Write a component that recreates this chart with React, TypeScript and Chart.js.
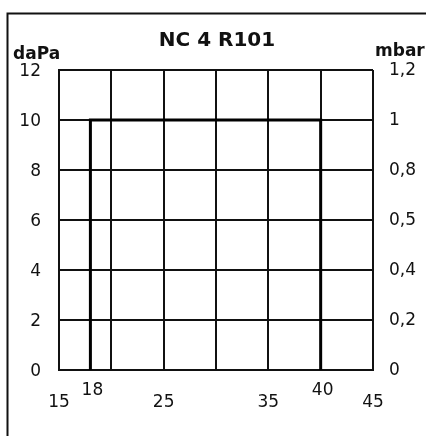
import { useEffect, useRef } from "react";
import { Chart, registerables } from "chart.js";

Chart.register(...registerables);

const TITLE = "NC 4 R101";
const LEFT_UNIT = "daPa";
const RIGHT_UNIT = "mbar";

// Pressure curve (x = capacity, y = daPa)
const curveX = [18, 18, 40, 40];
const curveY = [0, 10, 10, 0];

const leftTicks = [0, 2, 4, 6, 8, 10, 12];
const rightTickLabels = ["0", "0,2", "0,4", "0,5", "0,8", "1", "1,2"];
const xTicksLow = [15, 25, 35, 45];
const xTicksHigh = [18, 40];

const INK = "#111";
const TICK_FONT = "17px 'DejaVu Sans'";

export default function App() {
  const ref = useRef<HTMLCanvasElement | null>(null);

  useEffect(() => {
    if (!ref.current) return;

    const extras = {
      id: "extras",
      afterDraw(chart: any) {
        const ctx = chart.ctx as CanvasRenderingContext2D;
        const xs = chart.scales.x;
        ctx.save();
        // outer frame (scan border)
        ctx.strokeStyle = INK;
        ctx.lineWidth = 2;
        ctx.beginPath();
        ctx.moveTo(7.5, 436);
        ctx.lineTo(7.5, 13.5);
        ctx.lineTo(426, 13.5);
        ctx.stroke();

        ctx.fillStyle = INK;
        ctx.textBaseline = "alphabetic";
        // title
        ctx.font = "bold 20px 'DejaVu Sans'";
        ctx.textAlign = "center";
        ctx.fillText(TITLE, 217, 46);
        // units
        ctx.font = "bold 17px 'DejaVu Sans'";
        ctx.textAlign = "left";
        ctx.fillText(LEFT_UNIT, 13, 59);
        ctx.fillText(RIGHT_UNIT, 375, 56);

        // x tick labels (staggered)
        ctx.font = TICK_FONT;
        ctx.textAlign = "center";
        ctx.textBaseline = "middle";
        xTicksLow.forEach((v) => {
          ctx.fillText(String(v), xs.getPixelForValue(v), 403);
        });
        xTicksHigh.forEach((v) => {
          ctx.fillText(String(v), xs.getPixelForValue(v) + 2, 391);
        });
        ctx.restore();
      },
    };

    const gridStyle = { color: INK, lineWidth: 2, drawTicks: false };
    const borderStyle = { display: true, color: INK, width: 2 };

    const chart = new Chart(ref.current, {
      type: "line",
      data: {
        datasets: [
          {
            data: curveX.map((x, i) => ({ x, y: curveY[i] })),
            borderColor: "#000",
            borderWidth: 3,
            pointRadius: 0,
            tension: 0,
            fill: false,
            borderJoinStyle: "miter",
          },
        ],
      },
      options: {
        responsive: false,
        animation: false,
        devicePixelRatio: 1,
        layout: { padding: { top: 70, left: 0, right: 0, bottom: 0 } },
        plugins: {
          legend: { display: false },
          tooltip: { enabled: false },
          title: { display: false },
        },
        scales: {
          x: {
            type: "linear",
            min: 15,
            max: 45,
            ticks: { display: false, stepSize: 5 },
            grid: gridStyle,
            border: borderStyle,
            afterFit: (s: any) => {
              s.height = 66;
            },
          },
          y: {
            type: "linear",
            position: "left",
            min: 0,
            max: 12,
            afterBuildTicks: (s: any) => {
              s.ticks = leftTicks.map((v) => ({ value: v }));
            },
            ticks: {
              stepSize: 2,
              padding: 18,
              labelOffset: 2,
              color: INK,
              font: { family: "DejaVu Sans", size: 17 },
            },
            grid: gridStyle,
            border: borderStyle,
            afterFit: (s: any) => {
              s.width = 59;
            },
          },
          y2: {
            type: "linear",
            position: "right",
            min: 0,
            max: 12,
            afterBuildTicks: (s: any) => {
              s.ticks = leftTicks.map((v) => ({ value: v }));
            },
            ticks: {
              stepSize: 2,
              padding: 16,
              labelOffset: 1,
              color: INK,
              font: { family: "DejaVu Sans", size: 17 },
              callback: (v: any) => {
                const i = leftTicks.indexOf(Number(v));
                return i >= 0 ? rightTickLabels[i] : "";
              },
            },
            grid: { display: false, drawTicks: false },
            border: { display: false },
            afterFit: (s: any) => {
              s.width = 53;
            },
          },
        },
      } as any,
      plugins: [extras],
    });

    return () => chart.destroy();
  }, []);

  return (
    <div style={{ position: "absolute", left: 0, top: 0, width: 426, height: 436, background: "#fff" }}>
      <canvas ref={ref} width={426} height={436} style={{ display: "block" }} />
    </div>
  );
}
